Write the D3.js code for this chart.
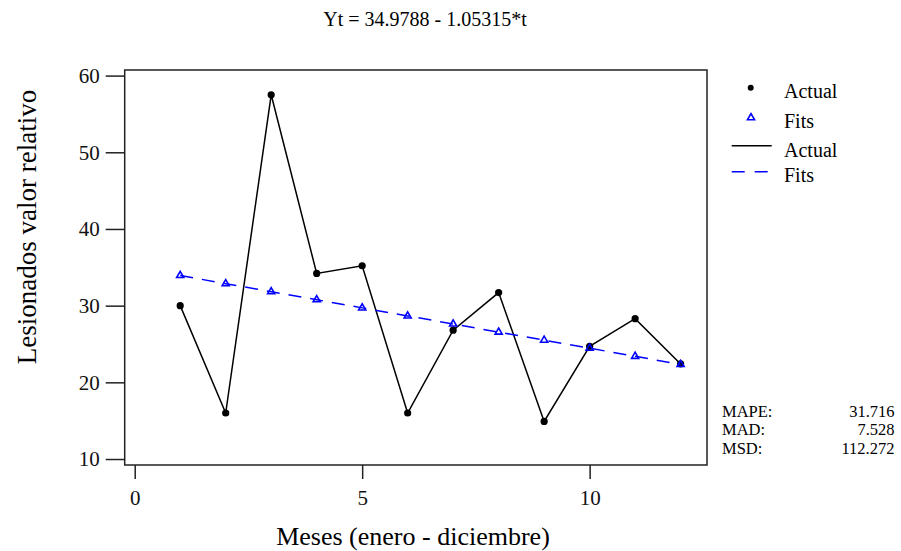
<!DOCTYPE html>
<html>
<head>
<meta charset="utf-8">
<script src="https://cdn.jsdelivr.net/npm/d3@7"></script>
<style>
  body { margin: 0; background: #fff; }
  text { font-family: "Liberation Serif", "Times New Roman", serif; }
</style>
</head>
<body>
<div id="chart"></div>
<script>
  // months 1..12
  var months = [1, 2, 3, 4, 5, 6, 7, 8, 9, 10, 11, 12];
  var actual = [30.0, 16.0, 57.5, 34.2, 35.2, 16.0, 26.8, 31.7, 14.9, 24.7, 28.3, 22.4];
  // trend fits
  var fits = [33.93, 32.87, 31.82, 30.77, 29.71, 28.66, 27.61, 26.55, 25.50, 24.45, 23.39, 22.34];
  var xTicks = [0, 5, 10];
  var yTicks = [10, 20, 30, 40, 50, 60];
  var stats = [["MAPE:", "31.716"], ["MAD:", "7.528"], ["MSD:", "112.272"]];
  var title = "Yt = 34.9788 - 1.05315*t";

  var W = 901, H = 551;
  var box = {left: 124.7, right: 707, top: 70, bottom: 465};
  var serif = "Liberation Serif";

  var svg = d3.select("#chart").append("svg")
      .attr("width", W)
      .attr("height", H);

  var x = d3.scaleLinear().domain([-0.22, 12.58]).range([box.left, box.right]);
  var y = d3.scaleLinear().domain([9.22, 60.73]).range([box.bottom, box.top]);

  // frame
  svg.append("rect")
    .attr("x", box.left).attr("y", box.top)
    .attr("width", box.right - box.left).attr("height", box.bottom - box.top)
    .attr("fill", "none").attr("stroke", "#222").attr("stroke-width", 1.5);

  // y axis, ticks outside on the left
  var yAxis = svg.append("g")
    .attr("transform", "translate(" + box.left + ",0)")
    .call(d3.axisLeft(y).tickValues(yTicks).tickSize(19).tickPadding(6).tickFormat(d3.format("d")));
  yAxis.select(".domain").remove();

  // x axis
  var xAxis = svg.append("g")
    .attr("transform", "translate(0," + box.bottom + ")")
    .call(d3.axisBottom(x).tickValues(xTicks).tickSize(14).tickPadding(11).tickFormat(d3.format("d")));
  xAxis.select(".domain").remove();

  svg.selectAll("g").attr("font-family", serif);
  svg.selectAll(".tick line").attr("stroke", "#222").attr("stroke-width", 1.5);
  svg.selectAll(".tick text")
    .attr("fill", "#111")
    .attr("font-family", serif)
    .attr("font-size", 21);

  // axis titles
  svg.append("text")
    .attr("x", 413).attr("y", 545)
    .attr("text-anchor", "middle")
    .attr("font-family", serif)
    .attr("font-size", 26)
    .text("Meses (enero - diciembre)");

  svg.append("text")
    .attr("transform", "translate(36,227) rotate(-90)")
    .attr("text-anchor", "middle")
    .attr("font-family", serif)
    .attr("font-size", 27)
    .text("Lesionados valor relativo");

  svg.append("text")
    .attr("x", 425).attr("y", 26)
    .attr("text-anchor", "middle")
    .attr("font-family", serif)
    .attr("font-size", 20)
    .text(title);

  // actual series
  var line = d3.line()
    .x(function(d, i) { return x(months[i]); })
    .y(function(d) { return y(d); });

  svg.append("path")
    .datum(actual)
    .attr("d", line)
    .attr("fill", "none")
    .attr("stroke", "#000")
    .attr("stroke-width", 1.5);

  svg.selectAll("circle.actual")
    .data(actual)
    .enter()
      .append("circle")
      .attr("class", "actual")
      .attr("cx", function(d, i) { return x(months[i]); })
      .attr("cy", function(d) { return y(d); })
      .attr("r", 3.6)
      .attr("fill", "#000");

  // fits series
  svg.append("path")
    .datum(fits)
    .attr("d", line)
    .attr("fill", "none")
    .attr("stroke", "#0000ff")
    .attr("stroke-width", 1.5)
    .attr("stroke-dasharray", "13,9");

  var tri = d3.symbol().type(d3.symbolTriangle).size(22);
  svg.selectAll("path.fit")
    .data(fits)
    .enter()
      .append("path")
      .attr("class", "fit")
      .attr("d", tri)
      .attr("transform", function(d, i) { return "translate(" + x(months[i]) + "," + y(d) + ")"; })
      .attr("fill", "none")
      .attr("stroke", "#0000ff")
      .attr("stroke-width", 1.6);

  // legend
  var lg = svg.append("g").attr("font-family", serif).attr("font-size", 20);
  lg.append("circle").attr("cx", 750.7).attr("cy", 87.7).attr("r", 3).attr("fill", "#000");
  lg.append("text").attr("x", 784).attr("y", 97.7).text("Actual");
  lg.append("path").attr("d", tri).attr("transform", "translate(751,117.7)")
    .attr("fill", "none").attr("stroke", "#0000ff").attr("stroke-width", 1.6);
  lg.append("text").attr("x", 784).attr("y", 128.3).text("Fits");
  lg.append("line").attr("x1", 731.7).attr("x2", 771.7).attr("y1", 145.7).attr("y2", 145.7)
    .attr("stroke", "#000").attr("stroke-width", 1.5);
  lg.append("text").attr("x", 784).attr("y", 157.3).text("Actual");
  lg.append("line").attr("x1", 731.7).attr("x2", 771.7).attr("y1", 171.7).attr("y2", 171.7)
    .attr("stroke", "#0000ff").attr("stroke-width", 1.5).attr("stroke-dasharray", "13,10");
  lg.append("text").attr("x", 784).attr("y", 181.7).text("Fits");

  // accuracy measures
  var st = svg.append("g").attr("font-family", serif).attr("font-size", 16.5);
  stats.forEach(function(s, i) {
    st.append("text").attr("x", 722).attr("y", 417 + i * 18.4).text(s[0]);
    st.append("text").attr("x", 894.5).attr("y", 417 + i * 18.4)
      .attr("text-anchor", "end").text(s[1]);
  });
</script>
</body>
</html>
